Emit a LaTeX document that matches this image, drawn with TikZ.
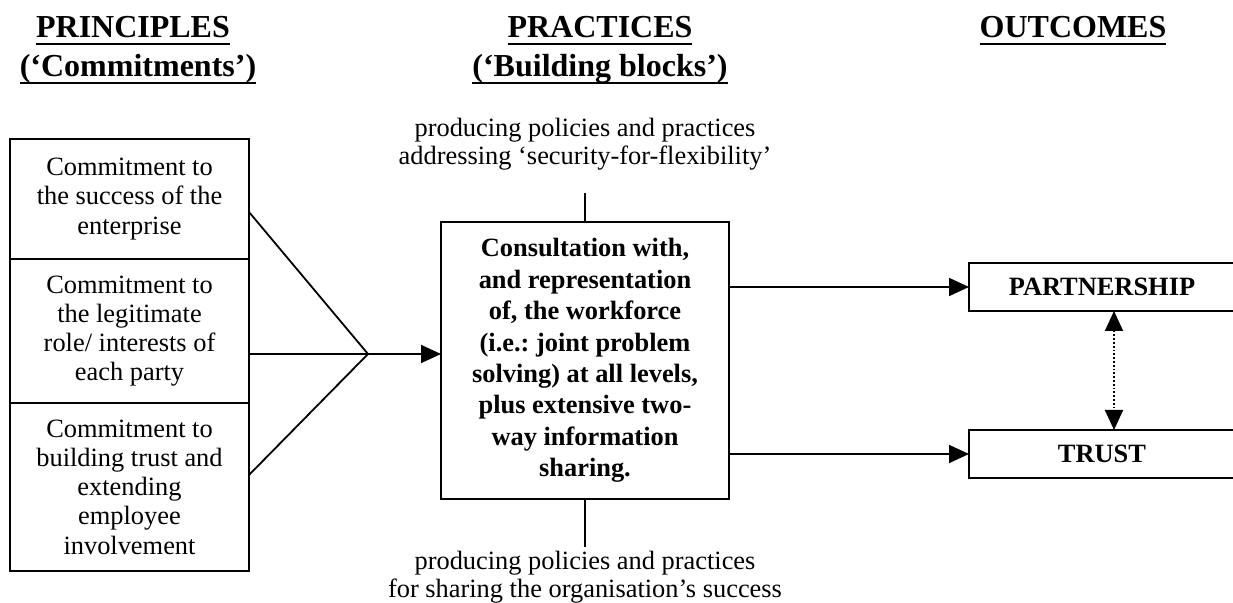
\documentclass[tikz,border=0pt]{standalone}
\usepackage{fontspec}
\setmainfont{Liberation Serif}
\usetikzlibrary{arrows.meta,positioning}
\frenchspacing

\newsavebox{\headbox}
\newcommand{\headul}[1]{\sbox{\headbox}{#1}\rlap{\usebox{\headbox}}\rule[-3.6pt]{\wd\headbox}{1.3pt}}

\tikzset{
  box/.style={draw, line width=1pt, inner sep=0pt, outer sep=0pt, align=center,
    font=\fontsize{13.2}{14.6}\selectfont},
  boldbox/.style={box, font=\fontsize{13.2}{15.7}\selectfont\bfseries},
  heading/.style={anchor=base, font=\fontsize{16}{19}\selectfont\bfseries},
  note/.style={align=center, font=\fontsize{13.2}{14}\selectfont},
  tip/.style={-{Triangle[length=10pt,width=9pt]}},
}

\begin{document}
\begin{tikzpicture}[x=0.5pt,y=-0.5pt,line width=0.9pt]
\useasboundingbox (0,0) rectangle (1233,603);

% headings
\node[heading] (prin) at (133,38) {\headul{PRINCIPLES}};
\node[heading] (prinsub) at (138,77) {\headul{(‘Commitments’)}};
\node[heading] (prac) at (600,38) {\headul{PRACTICES}};
\node[heading] (pracsub) at (600,77) {\headul{(‘Building blocks’)}};
\node[heading] (outc) at (1073,38) {\headul{OUTCOMES}};

% commitments
\node[box, minimum width=119.5pt, minimum height=60pt] (c1) at (129.5,199)
  {Commitment to\\the success of the\\enterprise};
\node[box, minimum width=119.5pt, minimum height=72pt, below=0pt of c1] (c2)
  {Commitment to\\the legitimate\\role/ interests of\\each party};
\node[box, minimum width=119.5pt, minimum height=84pt, below=0pt of c2] (c3)
  {Commitment to\\building trust and\\extending\\employee\\involvement};

% building block
\node[boldbox, minimum width=144pt, minimum height=138.5pt] (ctr) at (585,360.5)
  {Consultation with,\\and representation\\of, the workforce\\ (i.e.: joint problem\\solving) at all levels,\\plus extensive two-\\way information\\sharing.};

\node[note] (sec) at (585,144)
  {producing policies and practices\\addressing ‘security-for-flexibility’};
\node[note] (share) at (585,577.5)
  {producing policies and practices\\for sharing the organisation’s success};
\coordinate (sectop) at (585,193);
\coordinate (sharebot) at (585,547);
\draw (sectop) -- (ctr.north);
\draw (ctr.south) -- (sharebot);

% outcomes
\node[boldbox, minimum width=133pt, minimum height=24pt] (part) at (1102,287) {PARTNERSHIP};
\node[boldbox, minimum width=133pt, minimum height=24pt] (trust) at (1102,454) {TRUST};

% funnel
\coordinate (apex) at (368,354);
\draw ([yshift=-6.5pt]c1.east) -- (apex);
\draw (c2.east |- apex) -- (apex);
\draw ([yshift=6pt]c3.east) -- (apex);
\draw[tip] (apex) -- (apex -| ctr.west);

\draw[tip] (ctr.east |- part) -- (part.west);
\draw[tip] (ctr.east |- trust) -- (trust.west);
\draw[densely dotted, {Triangle[length=10pt,width=9pt]}-{Triangle[length=10pt,width=9pt]}]
  ([xshift=6pt]part.south) -- ([xshift=6pt]trust.north);
\end{tikzpicture}
\end{document}
